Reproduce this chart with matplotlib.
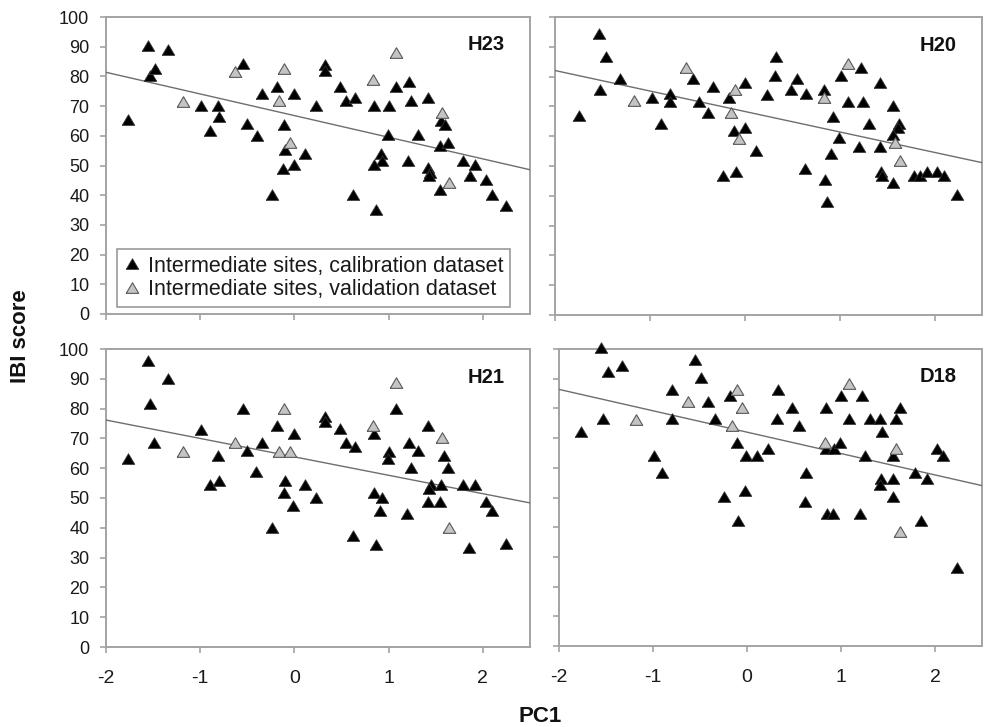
import numpy as np
import matplotlib
matplotlib.use("Agg")
import matplotlib.pyplot as plt
from matplotlib.lines import Line2D

plt.rcParams['font.family'] = ['Liberation Sans', 'DejaVu Sans']
plt.rcParams['axes.unicode_minus'] = False

# ---- data: PC1 vs IBI score, calibration (cal) and validation (val) sites ----
h23_cal_x = [-1.77, -1.55, -1.53, -1.48, -1.34, -0.99, -0.90, -0.81, -0.80, -0.55, -0.50, -0.40,
             -0.34, -0.24, -0.19, 0.00, -0.11, -0.10, 0.11, -0.01, -0.12, 0.23, 0.32, 0.32, 0.48,
             0.55, 0.64, 0.84, 1.00, 0.62, 0.87, 0.92, 0.93, 0.84, 0.99, 1.08, 1.22, 1.24, 1.42,
             1.31, 1.20, 1.42, 1.44, 1.43, 1.56, 1.60, 1.55, 1.63, 1.55, 1.79, 1.92, 1.86, 2.03,
             2.10, 2.24]
h23_cal_y = [65.2, 90.2, 80.0, 82.6, 89.0, 70.2, 61.5, 70.2, 66.3, 84.2, 64.0, 60.0,
             74.1, 40.1, 76.5, 74.1, 63.7, 55.1, 54.0, 50.3, 48.9, 70.2, 84.0, 81.7, 76.5,
             71.6, 72.7, 70.2, 70.2, 40.1, 35.1, 54.0, 51.4, 50.3, 60.4, 76.5, 78.1, 71.6, 72.7,
             60.4, 51.4, 49.1, 47.5, 46.5, 64.9, 63.7, 56.4, 57.6, 41.6, 51.4, 50.3, 46.5, 45.2,
             40.1, 36.4]
h23_val_x = [-1.18, -0.63, -0.11, -0.16, -0.05, 0.83, 1.08, 1.57, 1.64]
h23_val_y = [71.4, 81.5, 82.6, 71.6, 57.6, 78.9, 87.9, 67.7, 44.1]

h20_cal_x = [-1.75, -1.54, -1.46, -1.53, -1.32, -0.98, -0.88, -0.79, -0.79, -0.55, -0.48, -0.39,
             -0.33, -0.23, -0.17, -0.11, -0.09, 0.00, 0.00, 0.12, 0.33, 0.32, 0.23, 0.49, 0.55,
             0.65, 0.63, 0.84, 0.85, 0.87, 0.93, 0.99, 0.91, 1.01, 1.22, 1.09, 1.25, 1.31, 1.20,
             1.42, 1.42, 1.44, 1.45, 1.56, 1.63, 1.61, 1.56, 1.56, 1.78, 1.85, 1.92, 2.03, 2.10,
             2.24]
h20_cal_y = [66.8, 94.2, 86.5, 75.5, 79.1, 72.9, 64.1, 74.1, 71.6, 79.1, 71.6, 67.9,
             76.6, 46.6, 72.9, 61.7, 48.1, 78.0, 62.9, 55.1, 86.5, 80.2, 73.8, 75.5, 79.1,
             74.1, 49.0, 75.5, 45.3, 37.8, 66.5, 59.3, 54.0, 80.2, 82.8, 71.6, 71.6, 64.1, 56.5,
             78.0, 56.5, 47.9, 46.6, 70.1, 64.1, 62.6, 60.4, 44.2, 46.6, 46.6, 47.9, 47.9, 46.6,
             40.3]
h20_val_x = [-1.17, -0.62, -0.10, -0.15, -0.06, 0.83, 1.09, 1.58, 1.64]
h20_val_y = [71.8, 82.8, 75.5, 67.7, 59.0, 72.7, 84.1, 57.6, 51.7]

h21_cal_x = [-1.77, -1.55, -1.53, -1.49, -1.34, -0.99, -0.90, -0.81, -0.80, -0.55, -0.50, -0.41,
             -0.34, -0.24, -0.19, 0.00, -0.10, -0.11, 0.11, -0.02, 0.23, 0.32, 0.32, 0.48, 0.55,
             0.64, 0.62, 0.84, 0.84, 0.93, 0.91, 0.87, 1.00, 0.99, 1.08, 1.22, 1.31, 1.24, 1.19,
             1.42, 1.45, 1.43, 1.42, 1.56, 1.55, 1.59, 1.63, 1.79, 1.92, 2.03, 2.10, 1.85, 2.24]
h21_cal_y = [63.0, 96.0, 81.5, 68.6, 90.0, 72.8, 54.4, 64.2, 55.8, 79.9, 65.8, 58.6,
             68.6, 40.0, 74.3, 71.4, 55.8, 51.6, 54.4, 47.3, 49.9, 77.1, 75.6, 73.0, 68.6,
             67.2, 37.4, 71.4, 51.6, 50.1, 45.6, 34.2, 65.5, 63.0, 79.9, 68.6, 65.8, 60.2, 44.5,
             74.3, 54.4, 52.9, 48.8, 54.4, 48.8, 64.2, 60.2, 54.4, 54.4, 48.8, 45.6, 33.1, 34.5]
h21_val_x = [-1.18, -0.63, -0.11, -0.16, -0.05, 0.83, 1.08, 1.57, 1.64]
h21_val_y = [65.5, 68.6, 79.9, 65.5, 65.5, 74.3, 88.5, 70.0, 40.0]

d18_cal_x = [-1.77, -1.55, -1.53, -1.48, -1.33, -0.99, -0.90, -0.80, -0.80, -0.55, -0.49, -0.41,
             -0.34, -0.24, -0.18, -0.11, -0.01, -0.02, -0.10, 0.11, 0.22, 0.33, 0.32, 0.48, 0.55,
             0.63, 0.62, 0.84, 0.84, 0.93, 0.99, 0.85, 0.91, 1.00, 1.08, 1.22, 1.25, 1.20, 1.31,
             1.41, 1.44, 1.63, 1.59, 1.55, 1.43, 1.41, 1.55, 1.55, 1.79, 1.92, 1.85, 2.02, 2.09,
             2.23]
d18_cal_y = [72.2, 100.4, 76.3, 92.2, 94.4, 64.1, 58.1, 86.2, 76.3, 96.3, 90.1, 82.3,
             76.3, 50.3, 84.2, 68.2, 64.1, 52.2, 42.2, 64.1, 66.2, 86.2, 76.3, 80.2, 74.2,
             58.1, 48.4, 80.2, 66.2, 66.2, 68.2, 44.3, 44.3, 84.2, 76.3, 84.2, 64.1, 44.3, 76.3,
             76.3, 72.2, 80.2, 76.3, 64.1, 56.1, 54.2, 56.1, 50.3, 58.1, 56.1, 42.2, 66.2, 64.1,
             26.2]
d18_val_x = [-1.18, -0.63, -0.11, -0.16, -0.05, 0.83, 1.08, 1.58, 1.63]
d18_val_y = [76.1, 82.3, 86.2, 74.2, 80.2, 68.2, 88.2, 66.2, 38.3]

# fitted lines: IBI = intercept + slope * PC1
line_intercept = {'H23': 66.8, 'H20': 68.3, 'H21': 63.8, 'D18': 72.0}
line_slope = {'H23': -7.29, 'H20': -6.87, 'H21': -6.18, 'D18': -7.20}

x_ticks = [-2, -1, 0, 1, 2]
y_ticks = list(range(0, 101, 10))
legend_labels = ['Intermediate sites, calibration dataset',
                 'Intermediate sites, validation dataset']

panels = [
    ('H23', h23_cal_x, h23_cal_y, h23_val_x, h23_val_y),
    ('H20', h20_cal_x, h20_cal_y, h20_val_x, h20_val_y),
    ('H21', h21_cal_x, h21_cal_y, h21_val_x, h21_val_y),
    ('D18', d18_cal_x, d18_cal_y, d18_val_x, d18_val_y),
]

W, H = 984, 727
fig = plt.figure(figsize=(W / 100, H / 100), dpi=100)
fig.patch.set_facecolor('white')

# axes rectangles in pixels: left, top, right, bottom
boxes = [(106, 17, 530, 314), (555, 17, 982, 315),
         (106, 349, 530, 647), (559, 349, 982, 646)]

# slightly squat triangle marker
tri = [(-1.0, -0.78), (1.0, -0.78), (0.0, 0.92), (-1.0, -0.78)]

spine_col = '#a3a3a3'
axes = []
for i, ((name, cx, cy, vx, vy), (l, t, r, b)) in enumerate(zip(panels, boxes)):
    ax = fig.add_axes([l / W, (H - b) / H, (r - l) / W, (b - t) / H])
    axes.append(ax)
    xs = np.array([-2.0, 2.5])
    ax.plot(xs, line_intercept[name] + line_slope[name] * xs, color='#6e6e6e', lw=1.0, zorder=2)
    ax.plot(cx, cy, linestyle='none', marker=tri, markersize=9.0, markerfacecolor='black',
            markeredgecolor='#333333', markeredgewidth=0.6, zorder=3, clip_on=False)
    ax.plot(vx, vy, linestyle='none', marker=tri, markersize=9.0, markerfacecolor='#c4c4c4',
            markeredgecolor='#5a5a5a', markeredgewidth=0.8, zorder=4, clip_on=False)
    ax.set_xlim(-2, 2.5)
    ax.set_ylim(0, 100)
    ax.set_xticks(x_ticks)
    ax.set_yticks(y_ticks)
    for s in ax.spines.values():
        s.set_color(spine_col)
        s.set_linewidth(1.4)
        s.set_zorder(1)
    ax.tick_params(direction='out', length=4.5, width=1.2, color=spine_col,
                   labelcolor='#1a1a1a')
    ax.tick_params(axis='y', pad=7.5, labelsize=13)
    ax.tick_params(axis='x', pad=12, labelsize=14)
    if i in (1, 3):
        ax.tick_params(labelleft=False)
    if i in (0, 1):
        ax.tick_params(labelbottom=False)
    ax.text(0.941, 0.906, name, transform=ax.transAxes, ha='right', va='center',
            fontsize=14.5, fontweight='bold', color='#111111')

handles = [
    Line2D([], [], linestyle='none', marker=tri, markersize=9.0, markerfacecolor='black',
           markeredgecolor='#333333', markeredgewidth=0.6),
    Line2D([], [], linestyle='none', marker=tri, markersize=9.0, markerfacecolor='#c4c4c4',
           markeredgecolor='#5a5a5a', markeredgewidth=0.8),
]
leg = axes[0].legend(handles, legend_labels, loc='lower left', bbox_to_anchor=(0.026, 0.024),
                     borderaxespad=0, frameon=True, fancybox=False, fontsize=15.5,
                     handlelength=0.8, handletextpad=0.35, borderpad=0.3, labelspacing=0.12,
                     framealpha=1)
leg.set_zorder(10)
leg.get_frame().set_edgecolor('#9a9a9a')
leg.get_frame().set_linewidth(1.2)
for t in leg.get_texts():
    t.set_color('#1a1a1a')

fig.text(21 / W, 1 - 336 / H, 'IBI score', rotation=90, ha='center', va='center',
         fontsize=16, fontweight='bold', color='#111111')
fig.text(540 / W, 1 - 716 / H, 'PC1', ha='center', va='center',
         fontsize=16, fontweight='bold', color='#111111')

fig.savefig('out.png', dpi=100, facecolor='white')
